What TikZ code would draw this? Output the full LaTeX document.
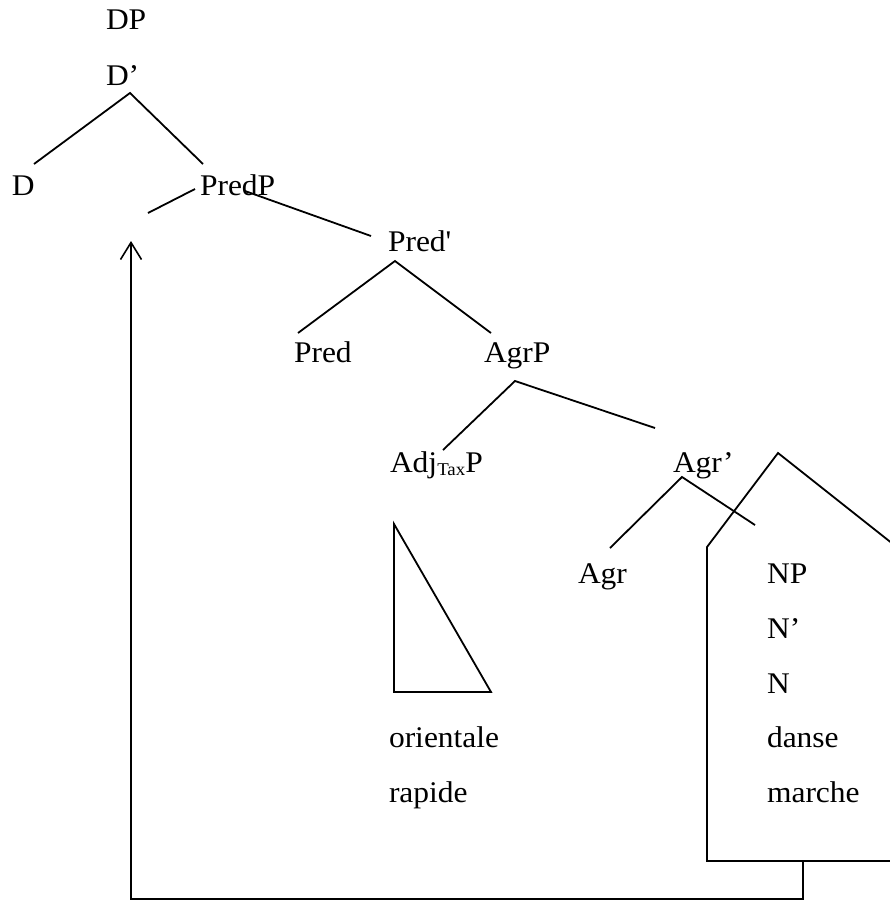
\documentclass[tikz,border=0pt]{standalone}
\usepackage{fontspec}
\newfontfamily\tnr[FakeStretch=1.05]{Liberation Serif}
\usetikzlibrary{arrows.meta}
\begin{document}
\begin{tikzpicture}[x=1pt,y=-1pt,
  lbl/.style={anchor=base west, inner sep=0pt, outer sep=0pt, font=\tnr\fontsize{30}{36}\selectfont},
  edge/.style={line width=1.8pt, line join=miter, line cap=butt},
  mv/.style={edge, -{Straight Barb[length=17pt,width=21pt,line width=1.6pt]}}
  ]
\useasboundingbox (0,0) rectangle (890,900);
\clip (0,0) rectangle (890,900);
% labels
\node[lbl] (DP) at (106,29) {DP};
\node[lbl] (Dbar) at (106,85) {D’};
\node[lbl] (D) at (12,195) {D};
\node[lbl] (PredP) at (200,195) {PredP};
\node[lbl] (Predbar) at (388,251) {Pred'};
\node[lbl] (Pred) at (294,362) {Pred};
\node[lbl] (AgrP) at (484,362) {AgrP};
\node[lbl] (AdjP) at (390,472) {Adj\raisebox{-3pt}{\fontsize{18}{20}\selectfont Tax}P};
\node[lbl] (Agrbar) at (673,472) {Agr’};
\node[lbl] (Agr) at (578,583) {Agr};
\node[lbl] (NP) at (767,583) {NP};
\node[lbl] (Nbar) at (767,638) {N’};
\node[lbl] (N) at (767,693) {N};
\node[lbl] (danse) at (767,747) {danse};
\node[lbl] (marche) at (767,802) {marche};
\node[lbl] (orientale) at (389,747) {orientale};
\node[lbl] (rapide) at (389,802) {rapide};
% branch points
\coordinate (DbarA) at (130,93);
\coordinate (DbarL) at (34,164);
\coordinate (DbarR) at (203,164);
\coordinate (PredPL1) at (195,189);
\coordinate (PredPL2) at (148,213);
\coordinate (PredPR1) at (245,191);
\coordinate (PredPR2) at (371,236);
\coordinate (PredbarA) at (395,261);
\coordinate (PredbarL) at (298,333);
\coordinate (PredbarR) at (491,333);
\coordinate (AgrPA) at (515,381);
\coordinate (AgrPL) at (443,450);
\coordinate (AgrPR) at (655,428);
\coordinate (AgrbarA) at (682,477);
\coordinate (AgrbarL) at (610,548);
\coordinate (AgrbarR) at (755,525);
% triangle
\coordinate (TriT) at (394,524);
\coordinate (TriBL) at (394,692);
\coordinate (TriBR) at (491,692);
% house
\coordinate (HsBL) at (707,861);
\coordinate (HsL) at (707,547);
\coordinate (HsA) at (778,453);
\coordinate (HsR) at (898,548);
\coordinate (HsBR) at (898,861);
% movement
\coordinate (MvS) at (803,861);
\coordinate (MvB1) at (803,899);
\coordinate (MvB2) at (131,899);
\coordinate (MvT) at (131,241);

\draw[edge] (DbarL) -- (DbarA) -- (DbarR);
\draw[edge] (PredPL1) -- (PredPL2);
\draw[edge] (PredPR1) -- (PredPR2);
\draw[edge] (PredbarL) -- (PredbarA) -- (PredbarR);
\draw[edge] (AgrPL) -- (AgrPA) -- (AgrPR);
\draw[edge] (AgrbarL) -- (AgrbarA) -- (AgrbarR);
\draw[edge] (TriT) -- (TriBL) -- (TriBR) -- cycle;
\draw[edge] (HsR) -- (HsA) -- (HsL) -- (HsBL) -- (HsBR);
\draw[mv] (MvS) -- (MvB1) -- (MvB2) -- (MvT);
\end{tikzpicture}
\end{document}
